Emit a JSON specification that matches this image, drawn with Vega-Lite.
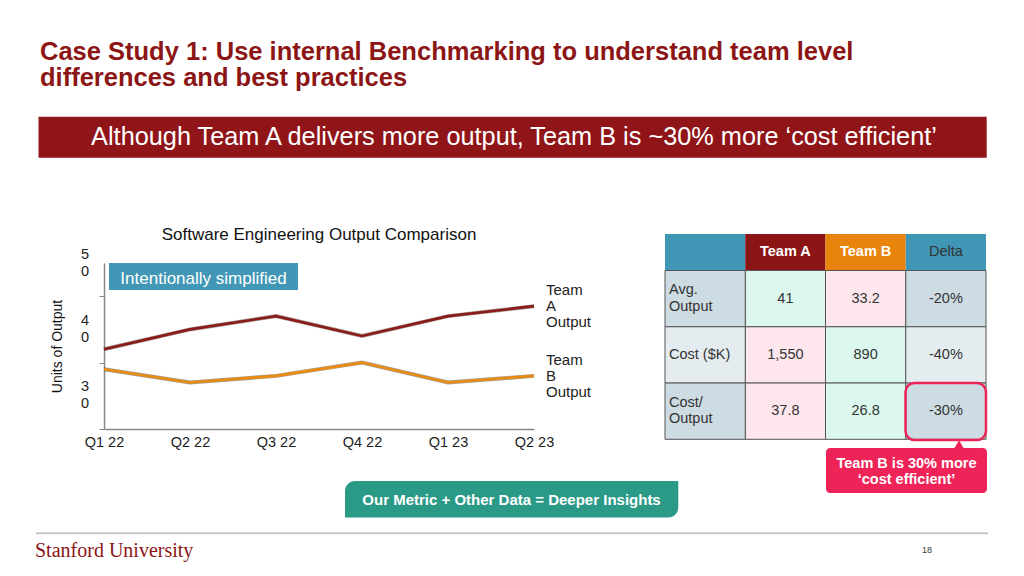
{
  "$schema": "https://vega.github.io/schema/vega-lite/v6.json",
  "width": 430,
  "height": 166,
  "autosize": {"type": "none"},
  "padding": {"left": 104, "top": 263, "right": 490, "bottom": 147},
  "background": "white",
  "config": {
    "view": {"stroke": null},
    "font": "Liberation Sans",
    "axis": {"grid": false, "labelFont": "Liberation Sans", "titleFont": "Liberation Sans"}
  },
  "datasets": {
    "output": [
      {"quarter": "Q1 22", "series": "Team A Output", "output": 37},
      {"quarter": "Q2 22", "series": "Team A Output", "output": 40},
      {"quarter": "Q3 22", "series": "Team A Output", "output": 42},
      {"quarter": "Q4 22", "series": "Team A Output", "output": 39},
      {"quarter": "Q1 23", "series": "Team A Output", "output": 42},
      {"quarter": "Q2 23", "series": "Team A Output", "output": 43.5},
      {"quarter": "Q1 22", "series": "Team B Output", "output": 34},
      {"quarter": "Q2 22", "series": "Team B Output", "output": 32},
      {"quarter": "Q3 22", "series": "Team B Output", "output": 33},
      {"quarter": "Q4 22", "series": "Team B Output", "output": 35},
      {"quarter": "Q1 23", "series": "Team B Output", "output": 32},
      {"quarter": "Q2 23", "series": "Team B Output", "output": 33}
    ],
    "yticks": [
      {"tick": 30, "label": "3\n0"},
      {"tick": 40, "label": "4\n0"},
      {"tick": 50, "label": "5\n0"}
    ],
    "table": [
      {"metric": "Avg.\nOutput", "col": "Team A", "value": "41", "verdict": "better"},
      {"metric": "Avg.\nOutput", "col": "Team B", "value": "33.2", "verdict": "worse"},
      {"metric": "Avg.\nOutput", "col": "Delta", "value": "-20%"},
      {"metric": "Cost ($K)", "col": "Team A", "value": "1,550", "verdict": "worse"},
      {"metric": "Cost ($K)", "col": "Team B", "value": "890", "verdict": "better"},
      {"metric": "Cost ($K)", "col": "Delta", "value": "-40%"},
      {"metric": "Cost/\nOutput", "col": "Team A", "value": "37.8", "verdict": "worse"},
      {"metric": "Cost/\nOutput", "col": "Team B", "value": "26.8", "verdict": "better"},
      {"metric": "Cost/\nOutput", "col": "Delta", "value": "-30%"}
    ]
  },
  "layer": [
    {
      "layer": [
        {
          "data": {"name": "output"},
          "mark": {"type": "line", "strokeWidth": 4, "color": "#3a2612", "opacity": 0.45},
          "encoding": {
            "x": {"field": "quarter", "type": "ordinal", "sort": ["Q1 22", "Q2 22", "Q3 22", "Q4 22", "Q1 23", "Q2 23"], "scale": {"type": "point", "padding": 0, "domain": ["Q1 22", "Q2 22", "Q3 22", "Q4 22", "Q1 23", "Q2 23"]},
              "axis": {"title": null, "ticks": false, "tickSize": 0, "labelPadding": 6, "labelFontSize": 14.5, "labelColor": "#222", "labelAngle": 0, "domainColor": "#888", "domainWidth": 1.5}},
            "y": {"field": "output", "type": "quantitative", "scale": {"domain": [25, 50], "nice": false, "zero": false},
              "axis": {"title": "Units of Output", "values": [25, 30, 35, 40, 45, 50], "labels": false, "tickSize": 5, "tickColor": "#888", "domainColor": "#888", "domainWidth": 1.5, "titleFontSize": 14, "titleFontWeight": "normal", "titleColor": "#111", "titleX": -47, "titleY": 83, "titleAngle": -90, "titleAlign": "center", "titleBaseline": "middle"}},
            "detail": {"field": "series"}
          }
        },
        {
          "data": {"name": "output"},
          "mark": {"type": "line", "strokeWidth": 2.6},
          "encoding": {
            "x": {"field": "quarter", "type": "ordinal", "sort": ["Q1 22", "Q2 22", "Q3 22", "Q4 22", "Q1 23", "Q2 23"]},
            "y": {"field": "output", "type": "quantitative"},
            "color": {"field": "series", "type": "nominal", "scale": {"domain": ["Team A Output", "Team B Output"], "range": ["#8b1a1a", "#ea8c10"]}, "legend": null}
          }
        },
        {
          "data": {"name": "output"},
          "transform": [{"filter": "datum.quarter == 'Q2 23'"}],
          "mark": {"type": "text", "align": "left", "baseline": "middle", "dx": 12, "dy": -16, "lineBreak": " ", "fontSize": 15, "lineHeight": 16, "fill": "#222"},
          "encoding": {
            "x": {"field": "quarter", "type": "ordinal", "sort": ["Q1 22", "Q2 22", "Q3 22", "Q4 22", "Q1 23", "Q2 23"]},
            "y": {"field": "output", "type": "quantitative"},
            "text": {"field": "series"}
          }
        },
        {
          "data": {"name": "yticks"},
          "mark": {"type": "text", "align": "center", "baseline": "middle", "dx": -19, "dy": -8.5, "lineBreak": "\n", "fontSize": 14.5, "lineHeight": 17, "fill": "#222"},
          "encoding": {
            "x": {"datum": "Q1 22", "type": "ordinal"},
            "y": {"field": "tick", "type": "quantitative"},
            "text": {"field": "label"}
          }
        }
      ]
    },
    {
      "layer": [
        {
          "data": {"values": [{"col": "label"}, {"col": "Team A"}, {"col": "Team B"}, {"col": "Delta"}]},
          "layer": [
            {
              "mark": {"type": "rect"},
              "encoding": {
                "x": {"field": "col", "type": "nominal", "scale": {"type": "band", "domain": ["label", "Team A", "Team B", "Delta"], "range": [561, 882], "paddingInner": 0, "paddingOuter": 0}, "axis": null},
                "y": {"datum": "header", "type": "nominal", "scale": {"type": "band", "domain": ["header"], "range": [-29, 7.5], "paddingInner": 0, "paddingOuter": 0}, "axis": null},
                "fill": {"field": "col", "type": "nominal", "scale": {"domain": ["label", "Team A", "Team B", "Delta"], "range": ["#4096b5", "#8b1515", "#e8830c", "#4096b5"]}, "legend": null}
              }
            },
            {
              "transform": [{"filter": "datum.col == 'Team A' || datum.col == 'Team B'"}],
              "mark": {"type": "text", "fontSize": 14.5, "fontWeight": "bold", "fill": "white", "baseline": "middle"},
              "encoding": {
                "x": {"field": "col", "type": "nominal"},
                "y": {"datum": "header", "type": "nominal"},
                "text": {"field": "col"}
              }
            },
            {
              "transform": [{"filter": "datum.col == 'Delta'"}],
              "mark": {"type": "text", "fontSize": 14.5, "fill": "#333", "baseline": "middle"},
              "encoding": {
                "x": {"field": "col", "type": "nominal"},
                "y": {"datum": "header", "type": "nominal"},
                "text": {"field": "col"}
              }
            }
          ]
        },
        {
          "data": {"name": "table"},
          "layer": [
            {
              "transform": [{"filter": "datum.col != 'Delta'"}],
              "mark": {"type": "rect", "stroke": "#555", "strokeWidth": 1},
              "encoding": {
                "x": {"field": "col", "type": "nominal"},
                "y": {"field": "metric", "type": "nominal", "scale": {"type": "band", "domain": ["Avg.\nOutput", "Cost ($K)", "Cost/\nOutput"], "range": [7.5, 176.3], "paddingInner": 0, "paddingOuter": 0}, "axis": null},
                "fill": {"field": "verdict", "type": "nominal", "scale": {"domain": ["better", "worse"], "range": ["#dcf8ee", "#fde7ec"]}, "legend": null}
              }
            },
            {
              "transform": [{"filter": "datum.col == 'Delta'"}],
              "mark": {"type": "rect", "stroke": "#555", "strokeWidth": 1},
              "encoding": {
                "x": {"field": "col", "type": "nominal"},
                "y": {"field": "metric", "type": "nominal"},
                "fill": {"field": "metric", "type": "nominal", "scale": {"domain": ["Avg.\nOutput", "Cost ($K)", "Cost/\nOutput"], "range": ["#cddbe3", "#e5ecf0", "#cddbe3"]}, "legend": null}
              }
            },
            {
              "transform": [{"filter": "datum.col == 'Delta'"}],
              "mark": {"type": "rect", "stroke": "#555", "strokeWidth": 1},
              "encoding": {
                "x": {"datum": "label", "type": "nominal"},
                "y": {"field": "metric", "type": "nominal"},
                "fill": {"field": "metric", "type": "nominal", "scale": {"domain": ["Avg.\nOutput", "Cost ($K)", "Cost/\nOutput"], "range": ["#cddbe3", "#e5ecf0", "#cddbe3"]}, "legend": null}
              }
            },
            {
              "mark": {"type": "text", "fontSize": 14.5, "fill": "#333", "baseline": "middle"},
              "encoding": {
                "x": {"field": "col", "type": "nominal"},
                "y": {"field": "metric", "type": "nominal"},
                "text": {"field": "value"}
              }
            },
            {
              "transform": [{"filter": "datum.col == 'Delta' && datum.metric != 'Cost ($K)'"}],
              "mark": {"type": "text", "fontSize": 14.5, "fill": "#333", "align": "left", "baseline": "middle", "dx": 4, "dy": -8.25, "lineBreak": "\n", "lineHeight": 16.5},
              "encoding": {
                "x": {"datum": "label", "type": "nominal", "bandPosition": 0},
                "y": {"field": "metric", "type": "nominal"},
                "text": {"field": "metric"}
              }
            },
            {
              "transform": [{"filter": "datum.col == 'Delta' && datum.metric == 'Cost ($K)'"}],
              "mark": {"type": "text", "fontSize": 14.5, "fill": "#333", "align": "left", "baseline": "middle", "dx": 4},
              "encoding": {
                "x": {"datum": "label", "type": "nominal", "bandPosition": 0},
                "y": {"field": "metric", "type": "nominal"},
                "text": {"field": "metric"}
              }
            }
          ],
          "resolve": {"scale": {"fill": "independent"}}
        }
      ],
      "resolve": {"scale": {"y": "independent", "fill": "independent"}}
    },
    {
      "layer": [
        {
          "data": {"values": [{"t": "Case Study 1: Use internal Benchmarking to understand team level\ndifferences and best practices"}]},
          "mark": {"type": "text", "align": "left", "baseline": "alphabetic", "fontSize": 25.5, "fontWeight": "bold", "fill": "#8c1515", "lineBreak": "\n", "lineHeight": 26},
          "encoding": {
            "x": {"datum": 40, "type": "quantitative", "scale": {"domain": [0, 1024], "range": [-104, 920], "nice": false, "zero": false}, "axis": null},
            "y": {"datum": 60, "type": "quantitative", "scale": {"domain": [0, 576], "range": [-263, 313], "nice": false, "zero": false}, "axis": null},
            "text": {"field": "t"}
          }
        },
        {
          "data": {"values": [{}]},
          "mark": {"type": "rect", "fill": "#8f1519"},
          "encoding": {
            "x": {"datum": 38.5, "type": "quantitative"}, "x2": {"datum": 986.7},
            "y": {"datum": 116.7, "type": "quantitative"}, "y2": {"datum": 157.7}
          }
        },
        {
          "data": {"values": [{"t": "Although Team A delivers more output, Team B is ~30% more ‘cost efficient’"}]},
          "mark": {"type": "text", "align": "center", "baseline": "alphabetic", "fontSize": 25.3, "fill": "white"},
          "encoding": {
            "x": {"datum": 514, "type": "quantitative"},
            "y": {"datum": 145, "type": "quantitative"},
            "text": {"field": "t"}
          }
        },
        {
          "data": {"values": [{"t": "Software Engineering Output Comparison"}]},
          "mark": {"type": "text", "align": "center", "baseline": "alphabetic", "fontSize": 17, "fill": "#111"},
          "encoding": {
            "x": {"datum": 319, "type": "quantitative"},
            "y": {"datum": 240, "type": "quantitative"},
            "text": {"field": "t"}
          }
        },
        {
          "data": {"values": [{}]},
          "mark": {"type": "rect", "fill": "#4197b5"},
          "encoding": {
            "x": {"datum": 109, "type": "quantitative"}, "x2": {"datum": 298},
            "y": {"datum": 263, "type": "quantitative"}, "y2": {"datum": 290}
          }
        },
        {
          "data": {"values": [{"t": "Intentionally simplified"}]},
          "mark": {"type": "text", "align": "center", "baseline": "alphabetic", "fontSize": 17, "fill": "white"},
          "encoding": {
            "x": {"datum": 203.5, "type": "quantitative"},
            "y": {"datum": 283.5, "type": "quantitative"},
            "text": {"field": "t"}
          }
        },
        {
          "data": {"values": [{}]},
          "mark": {"type": "rect", "fill": "#2a9a87", "cornerRadiusTopLeft": 10, "cornerRadiusBottomRight": 10},
          "encoding": {
            "x": {"datum": 345, "type": "quantitative"}, "x2": {"datum": 678.3},
            "y": {"datum": 481, "type": "quantitative"}, "y2": {"datum": 517.5}
          }
        },
        {
          "data": {"values": [{"t": "Our Metric + Other Data = Deeper Insights"}]},
          "mark": {"type": "text", "align": "center", "baseline": "alphabetic", "fontSize": 15, "fontWeight": "bold", "fill": "white"},
          "encoding": {
            "x": {"datum": 511.5, "type": "quantitative"},
            "y": {"datum": 505, "type": "quantitative"},
            "text": {"field": "t"}
          }
        },
        {
          "data": {"values": [{}]},
          "mark": {"type": "rule", "stroke": "#c8c8c8", "strokeWidth": 2},
          "encoding": {
            "x": {"datum": 36, "type": "quantitative"}, "x2": {"datum": 988},
            "y": {"datum": 533.3, "type": "quantitative"}
          }
        },
        {
          "data": {"values": [{"t": "Stanford University"}]},
          "mark": {"type": "text", "align": "left", "baseline": "alphabetic", "fontSize": 20, "font": "Liberation Serif", "fill": "#8c1515"},
          "encoding": {
            "x": {"datum": 35, "type": "quantitative"},
            "y": {"datum": 557, "type": "quantitative"},
            "text": {"field": "t"}
          }
        },
        {
          "data": {"values": [{"t": "18"}]},
          "mark": {"type": "text", "align": "center", "baseline": "alphabetic", "fontSize": 9, "fill": "#333"},
          "encoding": {
            "x": {"datum": 927, "type": "quantitative"},
            "y": {"datum": 553, "type": "quantitative"},
            "text": {"field": "t"}
          }
        },
        {
          "data": {"values": [{}]},
          "mark": {"type": "rect", "filled": false, "stroke": "#ee2458", "strokeWidth": 2.5, "cornerRadius": 9},
          "encoding": {
            "x": {"datum": 905.5, "type": "quantitative"}, "x2": {"datum": 986},
            "y": {"datum": 383, "type": "quantitative"}, "y2": {"datum": 440}
          }
        },
        {
          "data": {"values": [{}]},
          "mark": {"type": "point", "shape": "triangle-up", "filled": true, "size": 100, "color": "#ee2458", "opacity": 1},
          "encoding": {
            "x": {"datum": 959, "type": "quantitative"},
            "y": {"datum": 444.5, "type": "quantitative"}
          }
        },
        {
          "data": {"values": [{}]},
          "mark": {"type": "rect", "fill": "#ee2458", "cornerRadius": 4},
          "encoding": {
            "x": {"datum": 826, "type": "quantitative"}, "x2": {"datum": 987},
            "y": {"datum": 448, "type": "quantitative"}, "y2": {"datum": 493}
          }
        },
        {
          "data": {"values": [{"t": "Team B is 30% more\n‘cost efficient’"}]},
          "mark": {"type": "text", "align": "center", "baseline": "alphabetic", "fontSize": 14.5, "fontWeight": "bold", "fill": "white", "lineBreak": "\n", "lineHeight": 16.5},
          "encoding": {
            "x": {"datum": 906.5, "type": "quantitative"},
            "y": {"datum": 467.5, "type": "quantitative"},
            "text": {"field": "t"}
          }
        }
      ]
    }
  ],
  "resolve": {"scale": {"x": "independent", "y": "independent", "fill": "independent", "color": "independent"}}
}
